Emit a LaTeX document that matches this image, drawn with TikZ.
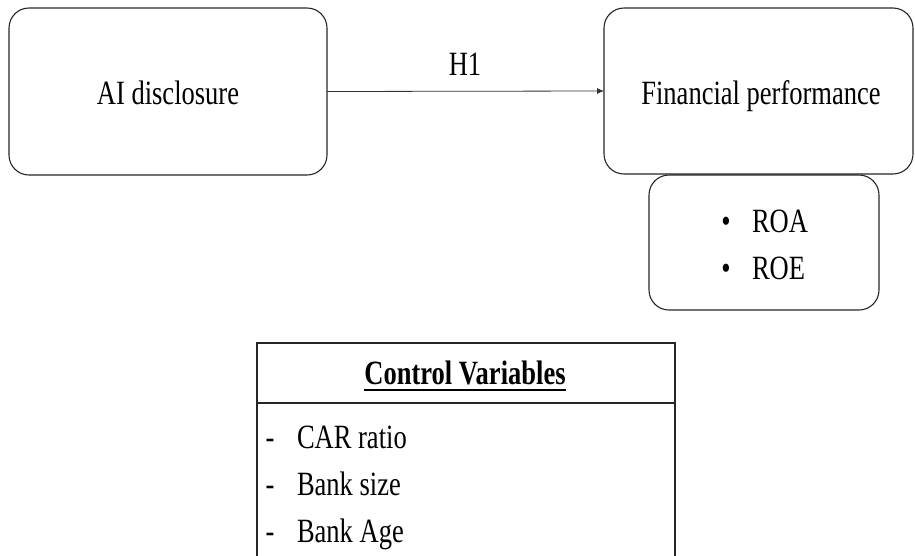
\documentclass[tikz,border=0pt]{standalone}
\usepackage{fontspec}
\setmainfont{Liberation Serif}
\usepackage{graphicx}
\usetikzlibrary{arrows.meta}
\newcommand{\sqz}[1]{\scalebox{0.78}[1]{#1}}
\begin{document}
\begin{tikzpicture}[x=1pt,y=-1pt,
  rbox/.style={draw=black!85,line width=1.1pt,rounded corners=20pt,inner sep=0pt,outer sep=0pt},
  sbox/.style={draw=black!85,line width=1.2pt,inner sep=0pt,outer sep=0pt},
  txt/.style={inner sep=0pt,outer sep=0pt,font=\fontsize{34}{40}\selectfont,anchor=base},
  lft/.style={txt,anchor=base west},
  conn/.style={draw=black!80,line width=0.8pt,-{Latex[length=7pt,width=6pt]}}]
\useasboundingbox (0,0) rectangle (915,555);
\clip (0,0) rectangle (915,555);
% boxes
\node[rbox,minimum width=318pt,minimum height=167pt] (ai) at (168,91.5) {};
\node[rbox,minimum width=309pt,minimum height=166pt] (fp) at (758.5,91) {};
\node[rbox,minimum width=230pt,minimum height=135pt] (ro) at (764,242.5) {};
\node[sbox,minimum width=418pt,minimum height=237pt] (cv) at (466,461.5) {};
\draw[sbox] (cv.west |- 0,403) -- (cv.east |- 0,403);
% texts
\node[txt] (aitxt) at (168,104) {\sqz{AI disclosure}};
\node[txt] (fptxt) at (761,104) {\sqz{Financial performance}};
\node[txt] (h1) at (465,75) {\sqz{H1}};
\node[txt] (b1) at (726,232) {\sqz{•}};
\node[lft] (roa) at (752,232) {\sqz{ROA}};
\node[txt] (b2) at (726,279) {\sqz{•}};
\node[lft] (roe) at (752,279) {\sqz{ROE}};
\node[txt,font=\fontsize{34}{40}\selectfont\bfseries] (cvh) at (465,384) {\sqz{Control Variables}};
\draw[line width=2pt] ([yshift=-6pt]cvh.base west) -- ([yshift=-6pt]cvh.base east);
\node[txt] (d1) at (270,448) {\sqz{-}};
\node[lft] (i1) at (297,448) {\sqz{CAR ratio}};
\node[txt] (d2) at (270,495) {\sqz{-}};
\node[lft] (i2) at (297,495) {\sqz{Bank size}};
\node[txt] (d3) at (270,542) {\sqz{-}};
\node[lft] (i3) at (297,542) {\sqz{Bank Age}};
% connector
\draw[conn] (ai.east) -- (fp.west);
\end{tikzpicture}
\end{document}
